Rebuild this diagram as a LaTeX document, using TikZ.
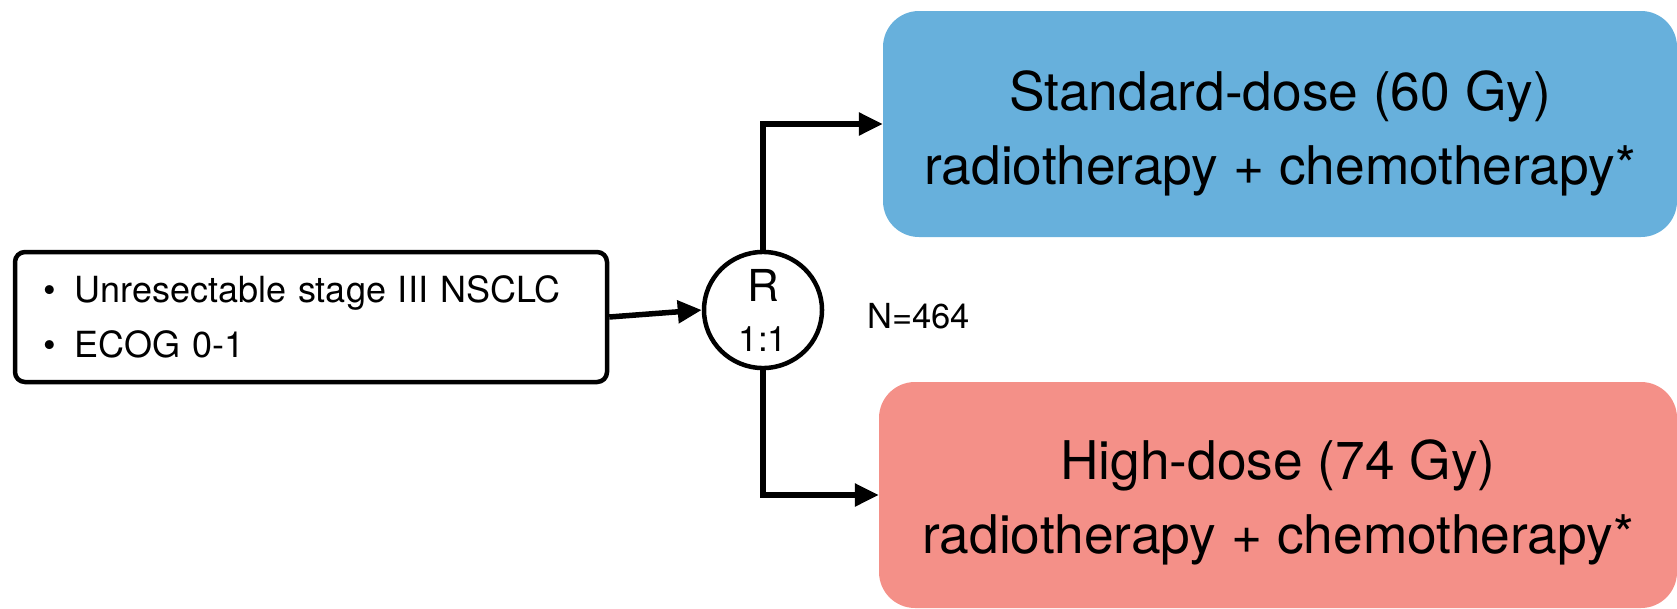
\documentclass[tikz,border=0pt]{standalone}
\usepackage{fontspec}
\setmainfont{TeX Gyre Heros}
\usepackage{xcolor}
\usepackage{tikz}
\usetikzlibrary{shapes.geometric,arrows.meta}

\definecolor{armblue}{RGB}{103,176,220}
\definecolor{armred}{RGB}{244,144,136}

\tikzset{
  armbox/.style={rounded corners=36pt, minimum height=226pt, inner sep=0pt,
    align=center, font=\fontsize{53.3}{74}\selectfont},
  flow/.style={line width=5.5pt, -{Triangle[length=24pt,width=22pt]}},
}

\begin{document}
\begin{tikzpicture}[x=1pt,y=-1pt]
  \useasboundingbox (0,0) rectangle (1677,608);
  % Einschluss
  \node[draw, line width=4.5pt, rounded corners=10pt, minimum width=592pt, minimum height=130pt,
    text width=536pt, inner xsep=28pt, align=left, font=\fontsize{36}{55}\selectfont]
    (elig) at (311,317) {\textbullet\hspace{19pt}Unresectable stage III NSCLC\\
    \textbullet\hspace{19pt}ECOG 0-1};
  % Randomisierung
  \node[ellipse, draw, line width=4.5pt, minimum width=118pt, minimum height=108pt, inner sep=0pt,
    align=center, font=\fontsize{44}{46}\selectfont] (rand) at (763,310)
    {\raisebox{4pt}{R}\\{\fontsize{35}{46}\selectfont 1:1}};
  \node[anchor=west, font=\fontsize{34.5}{35}\selectfont] (ntotal) at (864,316) {N=464};
  % Arme
  \node[armbox, fill=armblue, minimum width=794pt] (stdarm) at (1280,124)
    {\rule{0pt}{58pt}Standard-dose (60 Gy)\\ radiotherapy + chemotherapy*};
  \node[armbox, fill=armred, minimum width=798pt] (higharm) at (1278,495)
    {\rule{0pt}{54pt}High-dose (74 Gy)\\ radiotherapy + chemotherapy*};
  % Pfeile
  \draw[flow] (elig.east) -- (rand.west);
  \draw[flow] (rand.north) |- (stdarm.west);
  \draw[flow] (rand.south) |- (higharm.west);
\end{tikzpicture}
\end{document}
